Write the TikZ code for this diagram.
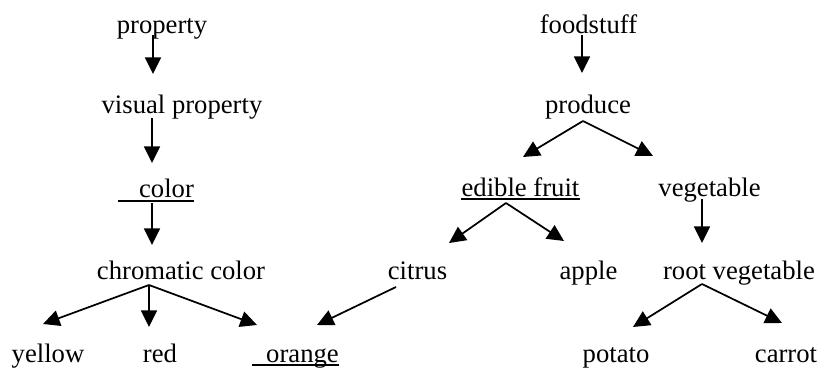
\documentclass[tikz,border=0pt]{standalone}
\usepackage{fontspec}
\setmainfont{Liberation Serif}
\usetikzlibrary{arrows.meta}

\begin{document}
\begin{tikzpicture}[x=0.75pt,y=-0.75pt,
  word/.style={anchor=base,inner sep=0pt,font=\fontsize{20}{24}\selectfont},
  isa/.style={line width=1.3pt,-{Triangle[width=12pt,length=12.5pt]}},
  uline/.style={line width=1.3pt}]
\useasboundingbox (0,0) rectangle (819,368);

% colour hierarchy
\node[word] (property) at (162,33) {property};
\node[word] (visual) at (182,113) {visual property};
\node[word] (color) at (156,197) {\hspace*{15.75pt}color};
\node[word] (chromatic) at (181,279) {chromatic color};
\node[word] (yellow) at (48,362) {yellow};
\node[word] (red) at (160,362) {red};
\node[word] (orange) at (295.5,362) {\hspace*{10.5pt}orange};

% food hierarchy
\node[word] (foodstuff) at (588.5,33) {foodstuff};
\node[word] (produce) at (588,113) {produce};
\node[word] (edible) at (520.5,196) {edible fruit};
\node[word] (vegetable) at (709.5,196) {vegetable};
\node[word] (citrus) at (417.5,279) {citrus};
\node[word] (apple) at (588.5,279) {apple};
\node[word] (rootveg) at (739,279) {root vegetable};
\node[word] (potato) at (616,362) {potato};
\node[word] (carrot) at (786,362) {carrot};

\draw[uline] ([shift={(0,4)}]color.base west) -- ([shift={(0,4)}]color.base east);
\draw[uline] ([shift={(0,3)}]orange.base west) -- ([shift={(0,3)}]orange.base east);
\draw[uline] ([shift={(0,3)}]edible.base west) -- ([shift={(0,3)}]edible.base east);

\draw[isa] ([shift={(-9,2)}]property.base) -- ([shift={(-29,-39)}]visual.base);
\draw[isa] ([shift={(-30,5)}]visual.base) -- ([shift={(-4,-34)}]color.base);
\draw[isa] ([shift={(-4,6)}]color.base) -- ([shift={(-29,-34)}]chromatic.base);
\draw[isa] ([shift={(-32,6)}]chromatic.base) -- ([shift={(-5,-38)}]yellow.base);
\draw[isa] ([shift={(-32,6)}]chromatic.base) -- ([shift={(-11,-35)}]red.base);
\draw[isa] ([shift={(-32,6)}]chromatic.base) -- ([shift={(-38.5,-37)}]orange.base);
\draw[isa] ([shift={(-21.5,8)}]citrus.base) -- ([shift={(21.5,-37)}]orange.base);

\draw[isa] ([shift={(-6.5,2)}]foodstuff.base) -- ([shift={(-6,-40)}]produce.base);
\draw[isa] ([shift={(-5,8)}]produce.base) -- ([shift={(2.5,-39)}]edible.base);
\draw[isa] ([shift={(-5,8)}]produce.base) -- ([shift={(-56.5,-40)}]vegetable.base);
\draw[isa] ([shift={(-14.5,7)}]edible.base) -- ([shift={(31.5,-36)}]citrus.base);
\draw[isa] ([shift={(-14.5,7)}]edible.base) -- ([shift={(-24.5,-38)}]apple.base);
\draw[isa] ([shift={(-7.5,3)}]vegetable.base) -- ([shift={(-37,-36)}]rootveg.base);
\draw[isa] ([shift={(-37,5)}]rootveg.base) -- ([shift={(17,-35)}]potato.base);
\draw[isa] ([shift={(-37,5)}]rootveg.base) -- ([shift={(-4,-39)}]carrot.base);
\end{tikzpicture}
\end{document}
